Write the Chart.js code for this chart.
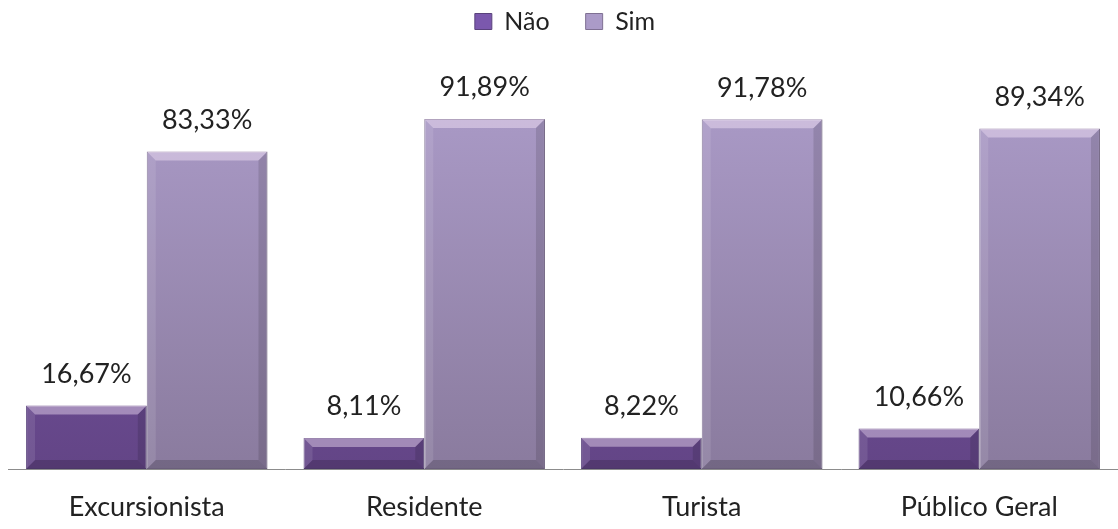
<!DOCTYPE html>
<html>
<head>
<meta charset="utf-8">
<script src="https://cdn.jsdelivr.net/npm/chart.js@4"></script>
<style>
  html, body { margin: 0; padding: 0; background: #ffffff; }
  #wrap { width: 1118px; height: 529px; }
</style>
</head>
<body>
<div id="wrap"><canvas id="barChart"></canvas></div>
<script>
const categories = ['Excursionista', 'Residente', 'Turista', 'Público Geral'];
const naoValues = [16.67, 8.11, 8.22, 10.66];
const simValues = [83.33, 91.89, 91.78, 89.34];
const seriesNames = ['Não', 'Sim'];

function fmt(v) {
    return v.toFixed(2).replace('.', ',') + '%';
}

// vertical gradient over the plot area for each series
function makeGradient(ctx, area, top, bottom) {
    const g = ctx.createLinearGradient(0, area.top, 0, area.bottom);
    g.addColorStop(0, top);
    g.addColorStop(1, bottom);
    return g;
}

// bevel edges + value labels, using the bar elements that chart.js laid out
const bevelAndLabels = {
    id: 'bevelAndLabels',
    afterDatasetsDraw(chart) {
        const ctx = chart.ctx;
        chart.data.datasets.forEach((ds, i) => {
            const meta = chart.getDatasetMeta(i);
            meta.data.forEach((bar, j) => {
                const left = bar.x - bar.width / 2;
                const right = bar.x + bar.width / 2;
                const top = bar.y;
                const bottom = bar.base;
                const b = Math.min(9, (bottom - top) / 2);
                ctx.save();
                // top edge highlight
                ctx.fillStyle = 'rgba(255,240,255,0.40)';
                ctx.beginPath();
                ctx.moveTo(left, top); ctx.lineTo(right, top);
                ctx.lineTo(right - b, top + b); ctx.lineTo(left + b, top + b);
                ctx.closePath(); ctx.fill();
                // left edge
                ctx.fillStyle = 'rgba(255,255,255,0.10)';
                ctx.beginPath();
                ctx.moveTo(left, top); ctx.lineTo(left + b, top + b);
                ctx.lineTo(left + b, bottom - b); ctx.lineTo(left, bottom);
                ctx.closePath(); ctx.fill();
                // right edge
                ctx.fillStyle = 'rgba(0,0,0,0.12)';
                ctx.beginPath();
                ctx.moveTo(right, top); ctx.lineTo(right - b, top + b);
                ctx.lineTo(right - b, bottom - b); ctx.lineTo(right, bottom);
                ctx.closePath(); ctx.fill();
                // bottom edge
                ctx.fillStyle = 'rgba(0,0,0,0.16)';
                ctx.beginPath();
                ctx.moveTo(left, bottom); ctx.lineTo(right, bottom);
                ctx.lineTo(right - b, bottom - b); ctx.lineTo(left + b, bottom - b);
                ctx.closePath(); ctx.fill();
                ctx.restore();

                ctx.save();
                ctx.fillStyle = '#222222';
                ctx.font = '27px Lato';
                ctx.textAlign = 'center';
                ctx.textBaseline = 'bottom';
                ctx.fillText(fmt(ds.data[j]), bar.x, top - 18);
                ctx.restore();
            });
        });
    }
};

document.addEventListener("DOMContentLoaded", function() {
    const ctx = document.getElementById('barChart').getContext('2d');

    const barChart = new Chart(ctx, {
        type: 'bar',
        data: {
            labels: categories,
            datasets: [{
                label: seriesNames[0],
                data: naoValues,
                backgroundColor: function(c) {
                    const area = c.chart.chartArea;
                    if (!area) return '#6a4b93';
                    return makeGradient(c.chart.ctx, area, '#7b58ad', '#634586');
                },
                borderColor: '#5a427c',
                borderWidth: 1,
                borderSkipped: false
            }, {
                label: seriesNames[1],
                data: simValues,
                backgroundColor: function(c) {
                    const area = c.chart.chartArea;
                    if (!area) return '#a28fbf';
                    return makeGradient(c.chart.ctx, area, '#ab9bc8', '#8a7b9e');
                },
                borderColor: '#7f7093',
                borderWidth: 1,
                borderSkipped: false
            }]
        },
        options: {
            responsive: true,
            maintainAspectRatio: false,
            animation: false,
            datasets: {
                bar: { categoryPercentage: 0.87, barPercentage: 1.0 }
            },
            layout: { padding: { left: 8, right: -4, top: -27, bottom: 8 } },
            plugins: {
                legend: {
                    position: 'top',
                    labels: {
                        font: { family: 'Lato', size: 25 },
                        color: '#222',
                        boxWidth: 17,
                        boxHeight: 16,
                        padding: 36,
                        useBorderRadius: false
                    }
                },
                // empty spacer under the legend
                subtitle: {
                    display: true,
                    text: ' ',
                    weight: 500,
                    font: { size: 10 },
                    padding: { top: 0, bottom: 32 }
                },
                tooltip: { enabled: false }
            },
            scales: {
                x: {
                    grid: { display: false },
                    border: { display: true, color: '#8c8c8c', width: 1 },
                    ticks: {
                        font: { family: 'Lato', size: 27 },
                        color: '#222222',
                        padding: 14
                    },
                    afterFit: function(scale) {
                        scale.height = 52;
                    }
                },
                y: {
                    display: false,
                    min: 0,
                    max: 100
                }
            }
        },
        plugins: [bevelAndLabels]
    });
});
</script>
</body>
</html>
